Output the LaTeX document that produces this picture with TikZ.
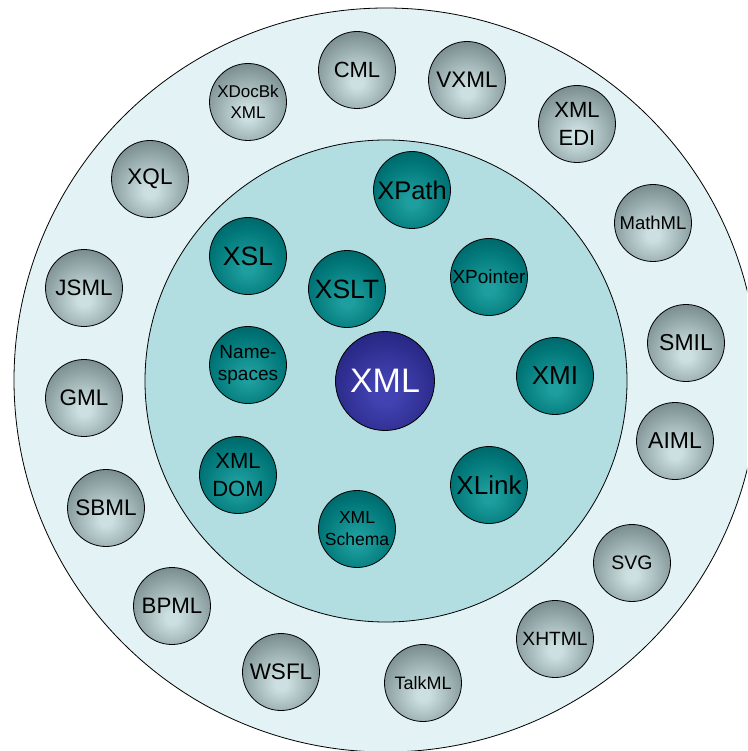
\documentclass[tikz,border=0pt]{standalone}
\usepackage{fontspec}
\setmainfont{Liberation Sans}

% ring and ball colours
\definecolor{ringout}{RGB}{226,242,245}
\definecolor{ringin}{RGB}{178,221,225}
\definecolor{grayhi}{RGB}{205,224,225}
\definecolor{graymid}{RGB}{142,162,164}
\definecolor{graylo}{RGB}{74,92,95}
\definecolor{tealhi}{RGB}{30,158,158}
\definecolor{tealmid}{RGB}{0,118,120}
\definecolor{teallo}{RGB}{0,72,76}
\definecolor{navyhi}{RGB}{66,66,178}
\definecolor{navymid}{RGB}{40,40,134}
\definecolor{navylo}{RGB}{20,20,80}

% glossy balls, brightest a little below the middle
\pgfdeclareradialshading{grayball}{\pgfpoint{0bp}{-8bp}}{%
  color(0bp)=(grayhi); color(4bp)=(grayhi); color(24bp)=(graymid);
  color(46bp)=(graylo); color(100bp)=(graylo)}
\pgfdeclareradialshading{tealball}{\pgfpoint{0bp}{-8bp}}{%
  color(0bp)=(tealhi); color(4bp)=(tealhi); color(24bp)=(tealmid);
  color(46bp)=(teallo); color(100bp)=(teallo)}
\pgfdeclareradialshading{navyball}{\pgfpoint{0bp}{-6bp}}{%
  color(0bp)=(navyhi); color(6bp)=(navyhi); color(28bp)=(navymid);
  color(50bp)=(navylo); color(100bp)=(navylo)}

\tikzset{
  ring/.style={draw=black, line width=0.8pt},
  ball/.style={circle, draw=black, line width=0.8pt, inner sep=0pt,
    minimum size=77pt, align=center, text=black},
  outerball/.style={ball, shading=grayball},
  innerball/.style={ball, shading=tealball},
  coreball/.style={ball, shading=navyball, minimum size=99pt, text=white},
  fs/.style={font=\fontsize{#1}{#1}\selectfont},
  fs2/.style 2 args={font=\fontsize{#1}{#2}\selectfont}
}

\begin{document}
\begin{tikzpicture}[x=1pt, y=-1pt]
  \useasboundingbox (0,0) rectangle (747,751);
  \begin{scope}
    \clip (0,0) rectangle (747,751);
    \draw[ring, fill=ringout] (386,380) circle[radius=372];
    \draw[ring, fill=ringin] (386,381) circle[radius=241];
  \end{scope}

  % outer ring of related vocabularies
  \node[outerball, fs=22]      (cml)    at (357,70)  {CML};
  \node[outerball, fs=22.5]    (vxml)   at (467,80)  {VXML};
  \node[outerball, fs2={22}{28}] (xmledi) at (577,124) {XML\\EDI};
  \node[outerball, fs=18.5]    (mathml) at (653,223) {MathML};
  \node[outerball, fs=23]      (smil)   at (686,343) {SMIL};
  \node[outerball, fs=23]      (aiml)   at (675,441) {AIML};
  \node[outerball, fs=19.5]    (svg)    at (632,563) {SVG};
  \node[outerball, fs=19.2]    (xhtml)  at (555,639) {XHTML};
  \node[outerball, fs=18]      (talkml) at (423,683) {TalkML};
  \node[outerball, fs=22.5]    (wsfl)   at (281,672) {WSFL};
  \node[outerball, fs=22.3]    (bpml)   at (172,606) {BPML};
  \node[outerball, fs=22.5]    (sbml)   at (106,508) {SBML};
  \node[outerball, fs=22.5]    (gml)    at (84,398)  {GML};
  \node[outerball, fs=22.3]    (jsml)   at (84,288)  {JSML};
  \node[outerball, fs=22.5]    (xql)    at (150,179) {XQL};
  \node[outerball, fs2={17}{21}] (xdocbk) at (248,102) {XDocBk\\XML};

  % inner ring of core technologies
  \node[innerball, fs=25.5]    (xpath)    at (412,190) {XPath};
  \node[innerball, fs=19]      (xpointer) at (489,277) {XPointer};
  \node[innerball, fs=26]      (xmi)      at (555,376) {XMI};
  \node[innerball, fs=26]      (xlink)    at (489,485) {XLink};
  \node[innerball, fs2={17.5}{22}] (schema) at (357,529) {XML\\Schema};
  \node[innerball, fs2={22}{28}] (dom)    at (238,475) {XML\\DOM};
  \node[innerball, fs2={19}{22}] (ns)     at (248,365) {Name-\\spaces};
  \node[innerball, fs=26.5]    (xsl)      at (248,256) {XSL};
  \node[innerball, fs=26.5]    (xslt)     at (347,289) {XSLT};

  % centre
  \node[coreball, fs=34] (xml) at (385,381) {XML};
\end{tikzpicture}
\end{document}
